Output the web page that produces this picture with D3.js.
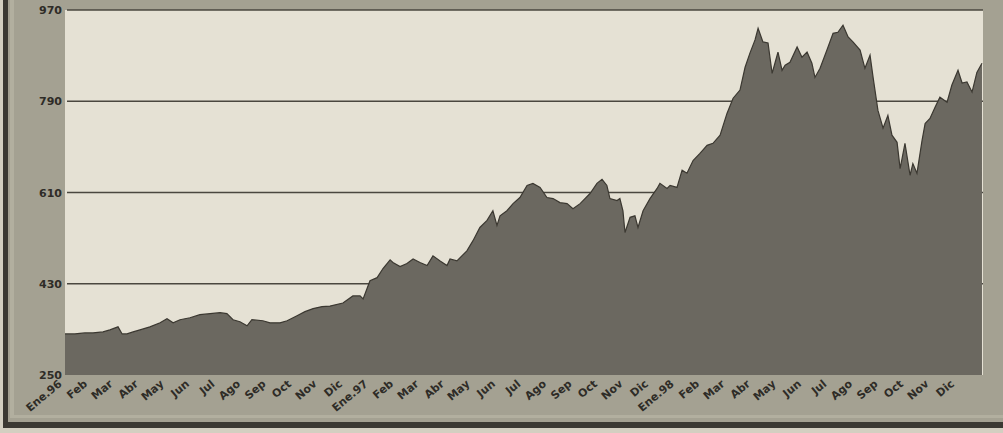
<!DOCTYPE html>
<html>
<head>
<meta charset="utf-8">
<script src="https://cdn.jsdelivr.net/npm/d3@7"></script>
<style>
  body { margin: 0; background: #d3cfc1; }
  svg { display: block; }
  .tick-label { font-family: "DejaVu Sans", Arial, sans-serif; font-weight: bold; fill: #2e2c27; }
</style>
</head>
<body>
<svg id="chart-area" width="1003" height="433"></svg>
<script>
// month labels, one per month from Ene.96 to Dic.98
var monthLabels = ['Ene.96','Feb','Mar','Abr','May','Jun','Jul','Ago','Sep','Oct','Nov','Dic',
                   'Ene.97','Feb','Mar','Abr','May','Jun','Jul','Ago','Sep','Oct','Nov','Dic',
                   'Ene.98','Feb','Mar','Abr','May','Jun','Jul','Ago','Sep','Oct','Nov','Dic'];

var yTicks = [250, 430, 610, 790, 970];

// position in months since start of Jan 1996
var monthPos = [0,0.39,0.78,1.10,1.49,1.76,2.08,2.24,2.43,2.67,2.94,3.33,3.73,4.00,4.24,4.51,4.90,5.29,5.69,6.08,
  6.35,6.59,6.86,7.14,7.33,7.76,8.04,8.43,8.71,9.10,9.41,9.73,10.08,10.39,10.90,11.29,11.57,11.69,11.96,
  12.24,12.47,12.75,12.86,13.14,13.41,13.65,13.92,14.20,14.43,14.71,14.98,15.10,15.37,15.76,16.00,16.27,
  16.55,16.78,16.94,17.06,17.33,17.57,17.84,18.12,18.35,18.63,18.90,19.14,19.41,19.69,19.92,20.20,20.59,
  20.86,21.06,21.25,21.37,21.65,21.76,21.88,21.96,22.16,22.35,22.47,22.67,22.94,23.22,23.33,23.61,23.73,
  24.00,24.20,24.39,24.63,24.90,25.18,25.41,25.69,25.96,26.20,26.47,26.67,26.86,27.06,27.18,27.37,27.57,
  27.73,27.84,27.96,28.12,28.24,28.43,28.71,28.90,29.10,29.29,29.41,29.61,29.88,30.12,30.31,30.51,30.71,
  30.90,31.18,31.37,31.57,31.69,31.88,32.08,32.27,32.43,32.63,32.75,32.94,33.14,33.25,33.41,33.61,33.73,
  33.92,34.12,34.31,34.59,34.78,35.02,35.18,35.37,35.57,35.76,35.96];

// index value
var indexValues = [331,331,333,333,335,339,345,331,331,335,339,345,353,361,353,359,363,369,371,373,
  371,359,355,347,359,357,353,353,357,367,375,381,385,386,392,406,406,400,436,
  442,460,477,472,464,470,479,472,466,485,475,466,479,475,495,515,541,
  555,574,545,564,574,588,600,624,628,620,600,598,590,588,578,588,608,
  628,636,624,598,594,598,574,531,561,564,541,574,598,618,628,618,624,
  620,654,648,673,687,703,707,723,766,796,812,857,885,911,934,907,905,
  845,865,887,851,861,867,897,877,887,865,837,855,891,924,926,940,917,
  907,891,855,881,837,772,737,762,723,709,657,707,644,667,648,713,746,
  756,778,798,788,822,851,826,828,808,847,865];

var svgWidth = 1003;
var svgHeight = 433;

var margin = {left:65, right:20, top:10, bottom:58};
var width = svgWidth - margin.left - margin.right;   // 918
var height = svgHeight - margin.top - margin.bottom; // 365

var svg = d3.select('#chart-area');

// frame / panel
svg.append('rect').attr('x',8).attr('y',0).attr('width',svgWidth-8).attr('height',422).attr('fill','#a4a192');
svg.append('rect').attr('x',10).attr('y',0).attr('width',4).attr('height',418).attr('fill','#b2af9f');
svg.append('rect').attr('x',10).attr('y',415).attr('width',svgWidth-10).attr('height',3).attr('fill','#b2af9f');
svg.append('rect').attr('x',3).attr('y',0).attr('width',5).attr('height',428).attr('fill','#3b3933');
svg.append('rect').attr('x',3).attr('y',422).attr('width',svgWidth-3).attr('height',6).attr('fill','#3b3933');

var g = svg.append('g')
           .attr('transform','translate(' + margin.left + ',' + margin.top + ')');

g.append('rect')
 .attr('width',width)
 .attr('height',height)
 .attr('fill','#e5e1d4');

var x = d3.scaleLinear()
          .domain([0,36])
          .range([0,width]);

var y = d3.scaleLinear()
          .domain([250,970])
          .range([height,0]);

var data = monthPos.map(function(t,i){
    return {t:t, v:indexValues[i]};
});

// grid lines (behind the area)
g.append('g')
 .attr('class','grid')
 .selectAll('line')
 .data(yTicks.filter(function(d){ return d > 250; }))
 .enter()
 .append('line')
 .attr('x1',2)
 .attr('x2',width)
 .attr('y1',function(d){ return y(d); })
 .attr('y2',function(d){ return y(d); })
 .attr('stroke','#4a473f')
 .attr('stroke-width',1.6);

var area = d3.area()
             .x(function(d){ return x(d.t); })
             .y0(height)
             .y1(function(d){ return y(d.v); });

var line = d3.line()
             .x(function(d){ return x(d.t); })
             .y(function(d){ return y(d.v); });

g.append('path')
 .datum(data)
 .attr('d',area)
 .attr('fill','#6b6860');

g.append('path')
 .datum(data)
 .attr('d',line)
 .attr('fill','none')
 .attr('stroke','#3b3831')
 .attr('stroke-width',1.2);

// y axis labels
var yAxis = d3.axisLeft(y)
              .tickValues(yTicks)
              .tickSize(0)
              .tickPadding(3);

var yg = g.append('g').attr('class','y axis').call(yAxis);
yg.select('.domain').remove();
yg.selectAll('text')
  .attr('class','tick-label')
  .style('font-size','11px')
  .attr('fill','#2e2c27');

// x axis labels, rotated
var xAxis = d3.axisBottom(x)
              .tickValues(d3.range(36))
              .tickFormat(function(d){ return monthLabels[d]; })
              .tickSize(0);

var xg = g.append('g')
          .attr('class','x axis')
          .attr('transform','translate(0,' + height + ')')
          .call(xAxis);
xg.select('.domain').remove();
xg.selectAll('text')
  .attr('class','tick-label')
  .style('font-size','11px')
  .attr('fill','#2e2c27')
  .attr('text-anchor','end')
  .attr('dy','0')
  .attr('y',0)
  .attr('transform','translate(-3,10) rotate(-40)');
</script>
</body>
</html>
